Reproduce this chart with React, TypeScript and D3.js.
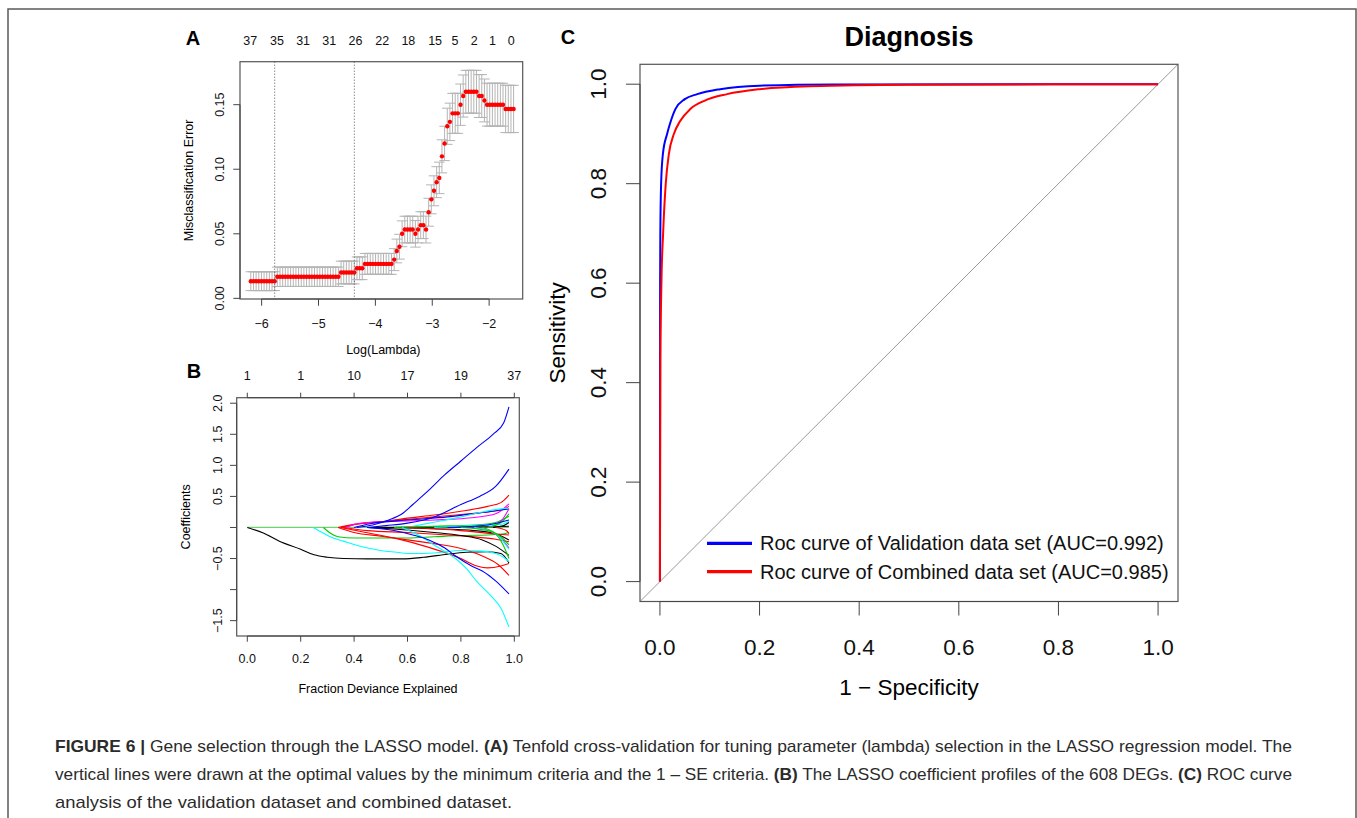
import React, { useEffect, useRef } from 'react';
import * as d3 from 'd3';

const W = 1357;
const H = 818;
const FONT = '"Liberation Sans", Arial, Helvetica, sans-serif';
const AX = '#444';

// ---------- Panel A: cross-validation curve ----------
const logLambdaStart = -6.19;
const logLambdaStep = 0.04667;
const cvError = [
  0.0133, 0.0133, 0.0133, 0.0133, 0.0133, 0.0133, 0.0133, 0.0133, 0.0133, 0.0133,
  0.0167, 0.0167, 0.0167, 0.0167, 0.0167, 0.0167, 0.0167, 0.0167, 0.0167, 0.0167,
  0.0167, 0.0167, 0.0167, 0.0167, 0.0167, 0.0167, 0.0167, 0.0167, 0.0167, 0.0167,
  0.0167, 0.0167, 0.0167, 0.0167,
  0.0200, 0.0200, 0.0200, 0.0200, 0.0200, 0.0200,
  0.0233, 0.0233, 0.0233,
  0.0267, 0.0267, 0.0267, 0.0267, 0.0267, 0.0267, 0.0267, 0.0267, 0.0267, 0.0267, 0.0267,
  0.0300, 0.0367, 0.0400, 0.0500,
  0.0533, 0.0533, 0.0533, 0.0533,
  0.0500, 0.0533, 0.0567, 0.0567, 0.0533,
  0.0667, 0.0767, 0.0833, 0.0900, 0.0933, 0.1100, 0.1200, 0.1333, 0.1367,
  0.1433, 0.1433, 0.1433,
  0.1500, 0.1567,
  0.1600, 0.1600, 0.1600, 0.1600, 0.1600,
  0.1567, 0.1567,
  0.1533,
  0.1500, 0.1500, 0.1500, 0.1500, 0.1500, 0.1500, 0.1500,
  0.1467, 0.1467, 0.1467, 0.1467,
];
const cvSE = [
  0.0073, 0.0073, 0.0073, 0.0073, 0.0073, 0.0073, 0.0073, 0.0073, 0.0073, 0.0073,
  0.0075, 0.0075, 0.0075, 0.0075, 0.0075, 0.0075, 0.0075, 0.0075, 0.0075, 0.0075,
  0.0075, 0.0075, 0.0075, 0.0075, 0.0075, 0.0075, 0.0075, 0.0075, 0.0075, 0.0075,
  0.0075, 0.0075, 0.0075, 0.0075,
  0.0088, 0.0088, 0.0088, 0.0088, 0.0088, 0.0088,
  0.0088, 0.0088, 0.0088,
  0.0081, 0.0081, 0.0081, 0.0081, 0.0081, 0.0081, 0.0081, 0.0081, 0.0081, 0.0081, 0.0081,
  0.0085, 0.0092, 0.0096, 0.0100,
  0.0103, 0.0103, 0.0103, 0.0103,
  0.0103, 0.0103, 0.0104, 0.0104, 0.0104,
  0.0108, 0.0112, 0.0116, 0.0120, 0.0122, 0.0128, 0.0133, 0.0140, 0.0145,
  0.0155, 0.0155, 0.0155,
  0.0160, 0.0163,
  0.0166, 0.0166, 0.0166, 0.0166, 0.0166,
  0.0166, 0.0166,
  0.0166,
  0.0166, 0.0166, 0.0166, 0.0166, 0.0166, 0.0166, 0.0166,
  0.0183, 0.0183, 0.0183, 0.0183,
];
const minIndex = 9;
const oneSeIndex = 39;
const aXTicks = [-6, -5, -4, -3, -2];
const aYTicks = [0, 0.05, 0.1, 0.15];
const aYLabels = ['0.00', '0.05', '0.10', '0.15'];
const nzeroAt = [-6.2, -5.73, -5.27, -4.81, -4.35, -3.88, -3.42, -2.95, -2.6, -2.26, -1.94, -1.61];
const nzeroLabels = ['37', '35', '31', '31', '26', '22', '18', '15', '5', '2', '1', '0'];

// ---------- Panel B: coefficient profiles ----------
const bXTicks = [0, 0.2, 0.4, 0.6, 0.8, 1.0];
const bTopLabels = ['1', '1', '10', '17', '19', '37'];
const bYTicks = [-1.5, -1.0, -0.5, 0, 0.5, 1.0, 1.5, 2.0];
const bYLabels = ['\u22121.5', '', '\u22120.5', '', '0.5', '1.0', '1.5', '2.0'];
const pathColors = [
  '#000000', '#000000', '#00CD00', '#FF0000', '#FF0000', '#FF0000', '#FF0000', '#FF0000',
  '#FF00FF', '#0000FF', '#00FFFF', '#000000', '#000000', '#00CD00', '#FF0000', '#00FFFF',
  '#0000FF', '#00CD00', '#FF00FF', '#FF00FF', '#00FFFF', '#00CD00', '#000000', '#FF0000',
  '#0000FF', '#00FFFF', '#00CD00', '#00FFFF', '#0000FF', '#0000FF',
];
const coefPaths: [number, number][][] = [
  [[0.45, 0], [0.7, 0.005], [0.9, 0.01], [0.98, 0.02]],
  [[0, 0], [0.06, -0.09], [0.12, -0.22], [0.2, -0.35], [0.25, -0.44], [0.3, -0.48], [0.36, -0.5], [0.45, -0.505], [0.58, -0.505], [0.66, -0.48], [0.75, -0.43], [0.82, -0.4], [0.9, -0.39], [0.95, -0.42], [0.98, -0.57]],
  [[0.285, 0], [0.31, -0.09], [0.34, -0.15], [0.4, -0.17], [0.5, -0.17], [0.6, -0.17], [0.7, -0.15], [0.8, -0.13], [0.9, -0.12], [0.95, -0.11], [0.98, -0.08]],
  [[0.34, 0], [0.4, 0.05], [0.5, 0.09], [0.6, 0.15], [0.7, 0.2], [0.8, 0.26], [0.9, 0.34], [0.95, 0.4], [0.98, 0.52]],
  [[0.34, 0], [0.4, -0.08], [0.5, -0.14], [0.6, -0.2], [0.7, -0.26], [0.8, -0.34], [0.88, -0.46], [0.94, -0.6], [0.98, -0.77]],
  [[0.35, 0], [0.43, -0.07], [0.56, -0.18], [0.68, -0.32], [0.8, -0.5], [0.86, -0.62], [0.9, -0.65], [0.95, -0.62], [0.98, -0.58]],
  [[0.36, 0], [0.45, -0.05], [0.6, -0.08], [0.75, -0.12], [0.85, -0.15], [0.93, -0.19], [0.98, -0.23]],
  [[0.35, 0], [0.42, 0.06], [0.55, 0.11], [0.7, 0.17], [0.85, 0.23], [0.95, 0.28], [0.98, 0.34]],
  [[0.37, 0], [0.4, 0.05], [0.45, 0.08], [0.55, 0.1], [0.7, 0.12], [0.85, 0.16], [0.93, 0.22], [0.98, 0.38]],
  [[0.4, 0], [0.46, 0.06], [0.6, 0.12], [0.75, 0.17], [0.88, 0.24], [0.95, 0.28], [0.98, 0.3]],
  [[0.6, 0], [0.68, 0.07], [0.78, 0.15], [0.88, 0.25], [0.95, 0.3], [0.98, 0.31]],
  [[0.45, 0], [0.6, -0.04], [0.7, -0.08], [0.8, -0.13], [0.88, -0.2], [0.93, -0.3], [0.98, -0.45]],
  [[0.5, 0], [0.7, -0.02], [0.85, -0.05], [0.93, -0.1], [0.98, -0.2]],
  [[0.55, 0], [0.7, 0.02], [0.85, 0.04], [0.93, 0.08], [0.98, 0.18]],
  [[0.6, 0], [0.8, -0.05], [0.92, -0.1], [0.98, -0.12]],
  [[0.247, 0], [0.28, -0.08], [0.31, -0.15], [0.36, -0.22], [0.43, -0.31], [0.5, -0.37], [0.56, -0.4], [0.62, -0.42], [0.7, -0.41], [0.8, -0.37], [0.88, -0.38], [0.93, -0.42], [0.96, -0.48], [0.98, -0.55]],
  [[0.41, 0], [0.47, 0.04], [0.53, 0.12], [0.58, 0.22], [0.62, 0.37], [0.68, 0.6], [0.74, 0.85], [0.8, 1.07], [0.86, 1.29], [0.92, 1.5], [0.96, 1.68], [0.98, 1.94]],
  [[0.88, 0], [0.93, -0.1], [0.96, -0.3], [0.98, -0.5]],
  [[0.85, 0], [0.92, -0.08], [0.96, -0.22], [0.98, -0.33]],
  [[0.9, 0], [0.95, 0.1], [0.98, 0.3]],
  [[0.7, 0], [0.85, 0.03], [0.95, 0.05], [0.98, 0.1]],
  [[0.9, 0], [0.95, 0.08], [0.98, 0.22]],
  [[0.92, 0], [0.96, 0.03], [0.98, 0.08]],
  [[0.93, 0], [0.97, -0.05], [0.98, -0.1]],
  [[0.75, 0], [0.9, 0.04], [0.98, 0.12]],
  [[0.85, 0], [0.93, -0.1], [0.98, -0.35]],
  [[0.8, 0], [0.9, -0.05], [0.95, -0.15], [0.98, -0.28]],
  [[0.58, 0], [0.64, -0.12], [0.71, -0.31], [0.78, -0.5], [0.82, -0.66], [0.86, -0.87], [0.91, -1.09], [0.95, -1.3], [0.98, -1.6]],
  [[0.45, 0], [0.52, 0.03], [0.6, 0.07], [0.7, 0.17], [0.8, 0.37], [0.87, 0.5], [0.93, 0.66], [0.98, 0.94]],
  [[0.45, 0], [0.55, -0.05], [0.62, -0.12], [0.68, -0.2], [0.74, -0.33], [0.78, -0.46], [0.84, -0.62], [0.88, -0.7], [0.93, -0.86], [0.98, -1.07]],
];

// ---------- Panel C: ROC curves ----------
const rocTicks = [0, 0.2, 0.4, 0.6, 0.8, 1.0];
const rocTickLabels = ['0.0', '0.2', '0.4', '0.6', '0.8', '1.0'];
const rocValidation: [number, number][] = [
  [0, 0], [0.0002, 0.4], [0.0004, 0.6], [0.0008, 0.7], [0.0024, 0.8], [0.006, 0.86], [0.0144, 0.9],
  [0.02, 0.92], [0.031, 0.95], [0.05, 0.97], [0.075, 0.98], [0.121, 0.99], [0.2, 0.997], [0.35, 0.9995], [1, 1],
];
const rocCombined: [number, number][] = [
  [0, 0], [0.001, 0.45], [0.003, 0.6], [0.0064, 0.7], [0.0117, 0.8], [0.018, 0.86], [0.028, 0.9],
  [0.04, 0.925], [0.061, 0.95], [0.09, 0.967], [0.135, 0.98], [0.2, 0.99], [0.3, 0.996], [0.5, 0.999], [1, 1],
];
const legendLabels = ['Roc curve of Validation data set (AUC=0.992)', 'Roc curve of Combined data set (AUC=0.985)'];
const legendColors = ['#0000FF', '#FF0000'];

type Sel = d3.Selection<any, unknown, null, undefined>;

function axisBottom(g: Sel, scale: d3.ScaleLinear<number, number>, values: number[], labels: string[],
  yBox: number, tickLen: number, fontSize: number, labelY: number) {
  g.append('line').attr('x1', scale(values[0])).attr('x2', scale(values[values.length - 1]))
    .attr('y1', yBox).attr('y2', yBox).attr('stroke', AX);
  values.forEach((v, i) => {
    g.append('line').attr('x1', scale(v)).attr('x2', scale(v)).attr('y1', yBox).attr('y2', yBox + tickLen).attr('stroke', AX);
    if (labels[i]) {
      g.append('text').attr('x', scale(v)).attr('y', labelY).attr('text-anchor', 'middle')
        .attr('font-size', fontSize).attr('fill', '#111').text(labels[i]);
    }
  });
}

function axisLeft(g: Sel, scale: d3.ScaleLinear<number, number>, values: number[], labels: string[],
  xBox: number, tickLen: number, fontSize: number, labelX: number) {
  g.append('line').attr('y1', scale(values[0])).attr('y2', scale(values[values.length - 1]))
    .attr('x1', xBox).attr('x2', xBox).attr('stroke', AX);
  values.forEach((v, i) => {
    g.append('line').attr('y1', scale(v)).attr('y2', scale(v)).attr('x1', xBox).attr('x2', xBox - tickLen).attr('stroke', AX);
    if (labels[i]) {
      g.append('text').attr('transform', `translate(${labelX},${scale(v)}) rotate(-90)`).attr('text-anchor', 'middle')
        .attr('font-size', fontSize).attr('fill', '#111').text(labels[i]);
    }
  });
}

function box(g: Sel, x0: number, y0: number, x1: number, y1: number) {
  g.append('rect').attr('x', x0).attr('y', y0).attr('width', x1 - x0).attr('height', y1 - y0)
    .attr('fill', 'none').attr('stroke', '#555').attr('stroke-width', 1.2);
}

function drawPanelA(svg: Sel) {
  const g = svg.append('g');
  const L = 240, R = 522.7, T = 61.7, B = 299;
  const x = d3.scaleLinear().domain([-6.38, -1.41]).range([L, R]);
  const y = d3.scaleLinear().domain([-0.0005, 0.1833]).range([B, T]);
  const logLambda = cvError.map((_, i) => logLambdaStart + i * logLambdaStep);
  const barw = 0.02 * (logLambda[logLambda.length - 1] - logLambda[0]);

  // error bars
  const bars = g.append('g').attr('stroke', '#b4b4b4').attr('stroke-width', 1);
  cvError.forEach((e, i) => {
    const xx = x(logLambda[i]);
    const up = y(e + cvSE[i]);
    const lo = y(e - cvSE[i]);
    bars.append('line').attr('x1', xx).attr('x2', xx).attr('y1', up).attr('y2', lo);
    bars.append('line').attr('x1', x(logLambda[i] - barw)).attr('x2', x(logLambda[i] + barw)).attr('y1', up).attr('y2', up);
    bars.append('line').attr('x1', x(logLambda[i] - barw)).attr('x2', x(logLambda[i] + barw)).attr('y1', lo).attr('y2', lo);
  });

  g.append('g').selectAll('circle').data(cvError).enter().append('circle')
    .attr('cx', (_, i) => x(logLambda[i])).attr('cy', d => y(d)).attr('r', 2.2).attr('fill', '#FF0000');

  [minIndex, oneSeIndex].forEach(i => {
    g.append('line').attr('x1', x(logLambda[i])).attr('x2', x(logLambda[i])).attr('y1', T).attr('y2', B)
      .attr('stroke', '#555').attr('stroke-dasharray', '1,2');
  });

  box(g, L, T, R, B);
  axisBottom(g, x, aXTicks, aXTicks.map(v => String(v).replace('-', '\u2212')), B, 6.7, 12.5, 327.5);
  axisLeft(g, y, aYTicks, aYLabels, L, 6.7, 12.5, 224);

  nzeroAt.forEach((v, i) => {
    g.append('text').attr('x', x(v)).attr('y', 45).attr('text-anchor', 'middle').attr('font-size', 12.5)
      .attr('fill', '#111').text(nzeroLabels[i]);
  });

  g.append('text').attr('x', (L + R) / 2 + 2).attr('y', 354).attr('text-anchor', 'middle').attr('font-size', 12.5).text('Log(Lambda)');
  g.append('text').attr('transform', `translate(192.5,${(T + B) / 2}) rotate(-90)`).attr('text-anchor', 'middle')
    .attr('font-size', 12.5).text('Misclassification Error');
  g.append('text').attr('x', 193).attr('y', 45).attr('text-anchor', 'middle').attr('font-size', 20)
    .attr('font-weight', 'bold').text('A');
}

function drawPanelB(svg: Sel) {
  const g = svg.append('g');
  const L = 236.7, R = 519.3, T = 397.7, B = 636;
  const x = d3.scaleLinear().domain([-0.0397, 1.0187]).range([L, R]);
  const y = d3.scaleLinear().domain([-1.747, 2.089]).range([B, T]);

  const line = d3.line<[number, number]>().x(d => x(d[0])).y(d => y(d[1])).curve(d3.curveMonotoneX);

  // coefficients still at zero
  g.append('line').attr('x1', x(0)).attr('x2', x(0.98)).attr('y1', y(0)).attr('y2', y(0))
    .attr('stroke', '#6fd26f').attr('stroke-width', 1.2);

  const paths = g.append('g').attr('fill', 'none').attr('stroke-width', 1.1);
  coefPaths.forEach((pts, i) => {
    paths.append('path').attr('d', line(pts) as string).attr('stroke', pathColors[i]);
  });

  box(g, L, T, R, B);
  axisBottom(g, x, bXTicks, bXTicks.map(v => v.toFixed(1)), B, 5.7, 12.5, 663.4);
  axisLeft(g, y, bYTicks, bYLabels, L, 6.7, 12.5, 222);

  // top axis: number of non-zero coefficients
  g.append('line').attr('x1', x(0)).attr('x2', x(1)).attr('y1', T).attr('y2', T).attr('stroke', AX);
  bXTicks.forEach((v, i) => {
    g.append('line').attr('x1', x(v)).attr('x2', x(v)).attr('y1', T).attr('y2', T - 5).attr('stroke', AX);
    g.append('text').attr('x', x(v)).attr('y', 380).attr('text-anchor', 'middle').attr('font-size', 12.5)
      .attr('fill', '#111').text(bTopLabels[i]);
  });

  g.append('text').attr('x', (L + R) / 2).attr('y', 692.5).attr('text-anchor', 'middle').attr('font-size', 12.5)
    .text('Fraction Deviance Explained');
  g.append('text').attr('transform', `translate(189.5,${(T + B) / 2}) rotate(-90)`).attr('text-anchor', 'middle')
    .attr('font-size', 12.5).text('Coefficients');
  g.append('text').attr('x', 194).attr('y', 378).attr('text-anchor', 'middle').attr('font-size', 20)
    .attr('font-weight', 'bold').text('B');
}

function drawPanelC(svg: Sel) {
  const g = svg.append('g');
  const L = 640, R = 1178, T = 64.3, B = 601.5;
  const x = d3.scaleLinear().domain([-0.04, 1.04]).range([L, R]);
  const y = d3.scaleLinear().domain([-0.04, 1.04]).range([B, T]);

  g.append('line').attr('x1', x(-0.04)).attr('y1', y(-0.04)).attr('x2', x(1.04)).attr('y2', y(1.04))
    .attr('stroke', '#999').attr('stroke-width', 1);

  const line = d3.line<[number, number]>().x(d => x(d[0])).y(d => y(d[1])).curve(d3.curveMonotoneX);
  g.append('path').attr('d', line(rocValidation) as string).attr('fill', 'none').attr('stroke', '#0000FF').attr('stroke-width', 2);
  g.append('path').attr('d', line(rocCombined) as string).attr('fill', 'none').attr('stroke', '#FF0000').attr('stroke-width', 2);

  box(g, L, T, R, B);
  axisBottom(g, x, rocTicks, rocTickLabels, B, 14, 22.5, 655);
  axisLeft(g, y, rocTicks, rocTickLabels, L, 14, 22.5, 606);

  legendLabels.forEach((lab, i) => {
    const yy = 543.3 + i * 28.4;
    g.append('line').attr('x1', 707).attr('x2', 752).attr('y1', yy).attr('y2', yy)
      .attr('stroke', legendColors[i]).attr('stroke-width', 3.3);
    g.append('text').attr('x', 760).attr('y', yy + 7).attr('font-size', 20).attr('fill', '#111').text(lab);
  });

  g.append('text').attr('x', (L + R) / 2).attr('y', 46).attr('text-anchor', 'middle').attr('font-size', 27)
    .attr('font-weight', 'bold').text('Diagnosis');
  g.append('text').attr('x', (L + R) / 2).attr('y', 695).attr('text-anchor', 'middle').attr('font-size', 22.5)
    .text('1 \u2212 Specificity');
  g.append('text').attr('transform', `translate(565,${(T + B) / 2}) rotate(-90)`).attr('text-anchor', 'middle')
    .attr('font-size', 22.5).text('Sensitivity');
  g.append('text').attr('x', 568).attr('y', 44).attr('text-anchor', 'middle').attr('font-size', 20)
    .attr('font-weight', 'bold').text('C');
}

const captionLines: [string, boolean][][] = [
  [['FIGURE 6 |', true], [' Gene selection through the LASSO model. ', false], ['(A)', true],
    [' Tenfold cross-validation for tuning parameter (lambda) selection in the LASSO regression model. The', false]],
  [['vertical lines were drawn at the optimal values by the minimum criteria and the 1 \u2013 SE criteria. ', false], ['(B)', true],
    [' The LASSO coefficient profiles of the 608 DEGs. ', false], ['(C)', true], [' ROC curve', false]],
  [['analysis of the validation dataset and combined dataset.', false]],
];
const captionWidths = [1237, 1237, 457];

function drawCaption(svg: Sel) {
  const g = svg.append('g').attr('fill', '#2b2b2b').attr('font-size', 17);
  captionLines.forEach((parts, i) => {
    const t = g.append('text').attr('x', 55).attr('y', 752 + i * 28).attr('xml:space', 'preserve')
      .attr('textLength', captionWidths[i]).attr('lengthAdjust', 'spacingAndGlyphs');
    parts.forEach(([s, bold]) => {
      t.append('tspan').attr('font-weight', bold ? 'bold' : 'normal').text(s);
    });
  });
}

export default function App() {
  const ref = useRef<SVGSVGElement>(null);

  useEffect(() => {
    const svg = d3.select(ref.current) as unknown as Sel;
    svg.selectAll('*').remove();
    svg.attr('width', W).attr('height', H).style('font-family', FONT);

    svg.append('rect').attr('width', W).attr('height', H).attr('fill', '#fff');
    svg.append('rect').attr('x', 8).attr('y', 9).attr('width', 1348).attr('height', 900)
      .attr('fill', 'none').attr('stroke', '#5a5a5a').attr('stroke-width', 1.5);

    drawPanelA(svg);
    drawPanelB(svg);
    drawPanelC(svg);
    drawCaption(svg);
  }, []);

  return <svg ref={ref} style={{ position: 'absolute', left: 0, top: 0, display: 'block' }} />;
}
